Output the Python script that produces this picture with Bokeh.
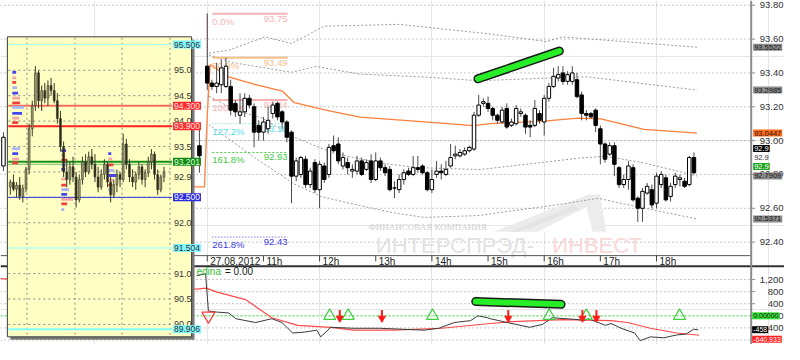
import numpy as np
from bokeh.plotting import figure
from bokeh.models import Range1d, Label, ColumnDataSource
from bokeh.core.properties import value
from bokeh.embed import file_html
from bokeh.resources import INLINE

FONT = "Liberation Sans"

# ====================== DATA ======================
hour_ticks = [10, 11, 12, 13, 14, 15, 16, 17, 18]
hour_labels = ["27.08.2012", "11h", "12h", "13h", "14h", "15h", "16h", "17h", "18h"]

# 5-minute bars from 10:00
bar_open = [93.44, 93.34, 93.32, 93.33, 93.32, 93.32, 93.22, 93.15, 93.17, 93.25,
            93.20, 93.09, 93.05, 93.07, 93.16, 93.22, 93.17, 93.11, 93.05, 92.79,
            92.80, 92.89, 92.74, 92.87, 92.71, 92.85, 92.80, 92.97, 92.98, 92.85,
            92.87, 92.82, 92.82, 92.88, 92.83, 92.88, 92.77, 92.88, 92.84, 92.83,
            92.72, 92.71, 92.77, 92.82, 92.80, 92.84, 92.85, 92.81, 92.71, 92.80,
            92.82, 92.80, 92.85, 92.91, 92.91, 92.92, 92.94, 92.95, 93.15, 93.22,
            93.22, 93.19, 93.15, 93.11, 93.19, 93.09, 93.10, 93.16, 93.15, 93.09,
            93.09, 93.16, 93.11, 93.25, 93.32, 93.37, 93.40, 93.35, 93.35, 93.36,
            93.27, 93.16, 93.16, 93.18, 93.07, 92.98, 92.92, 92.97, 92.84, 92.74,
            92.77, 92.84, 92.66, 92.60, 92.69, 92.71, 92.63, 92.74, 92.78, 92.67,
            92.74, 92.77, 92.76, 92.74, 92.90]
bar_high = [93.75, 93.36, 93.46, 93.48, 93.49, 93.36, 93.24, 93.28, 93.28, 93.27,
            93.22, 93.12, 93.14, 93.20, 93.23, 93.23, 93.18, 93.12, 93.06, 92.90,
            92.91, 92.91, 92.84, 92.89, 92.88, 92.87, 92.98, 93.03, 93.02, 92.93,
            92.90, 92.86, 92.91, 92.90, 92.89, 92.92, 92.93, 92.90, 92.86, 92.85,
            92.76, 92.80, 92.83, 92.84, 92.91, 92.91, 92.86, 92.82, 92.83, 92.88,
            92.86, 92.88, 92.98, 92.97, 92.95, 92.96, 92.97, 93.17, 93.27, 93.25,
            93.26, 93.20, 93.16, 93.20, 93.22, 93.13, 93.21, 93.19, 93.16, 93.12,
            93.24, 93.18, 93.27, 93.34, 93.43, 93.44, 93.44, 93.41, 93.44, 93.40,
            93.29, 93.18, 93.17, 93.19, 93.09, 92.99, 92.99, 92.99, 92.85, 92.80,
            92.88, 92.86, 92.67, 92.72, 92.75, 92.74, 92.81, 92.82, 92.80, 92.75,
            92.81, 92.80, 92.78, 92.91, 92.93]
bar_low = [93.30, 93.30, 93.28, 93.28, 93.31, 93.15, 93.14, 93.10, 93.14, 93.19,
           92.96, 93.00, 93.00, 93.04, 93.13, 93.12, 93.07, 92.99, 92.63, 92.76,
           92.78, 92.72, 92.72, 92.69, 92.60, 92.75, 92.78, 92.93, 92.86, 92.83,
           92.80, 92.78, 92.80, 92.79, 92.82, 92.75, 92.76, 92.82, 92.79, 92.70,
           92.66, 92.69, 92.74, 92.79, 92.79, 92.81, 92.80, 92.70, 92.69, 92.78,
           92.77, 92.79, 92.84, 92.89, 92.90, 92.91, 92.93, 92.94, 93.14, 93.20,
           93.17, 93.12, 93.10, 93.10, 93.07, 93.08, 93.09, 93.14, 93.04, 93.02,
           93.08, 93.10, 93.03, 93.23, 93.31, 93.35, 93.33, 93.33, 93.33, 93.25,
           93.12, 93.12, 93.13, 93.05, 92.86, 92.87, 92.91, 92.79, 92.72, 92.72,
           92.71, 92.64, 92.52, 92.52, 92.68, 92.60, 92.60, 92.72, 92.64, 92.64,
           92.72, 92.73, 92.72, 92.73, 92.80]
bar_close = [93.34, 93.32, 93.34, 93.43, 93.44, 93.18, 93.17, 93.17, 93.25, 93.21,
             93.05, 93.05, 93.11, 93.12, 93.21, 93.14, 93.11, 93.02, 92.79, 92.88,
             92.90, 92.74, 92.82, 92.71, 92.86, 92.77, 92.96, 92.94, 92.88, 92.90,
             92.84, 92.83, 92.88, 92.80, 92.87, 92.77, 92.88, 92.84, 92.81, 92.71,
             92.72, 92.77, 92.81, 92.80, 92.84, 92.83, 92.81, 92.71, 92.77, 92.82,
             92.81, 92.83, 92.90, 92.92, 92.93, 92.94, 92.96, 93.15, 93.21, 93.23,
             93.19, 93.15, 93.12, 93.18, 93.08, 93.11, 93.19, 93.17, 93.08, 93.08,
             93.19, 93.12, 93.25, 93.32, 93.38, 93.39, 93.35, 93.39, 93.40, 93.26,
             93.16, 93.15, 93.14, 93.09, 92.98, 92.89, 92.97, 92.86, 92.74, 92.77,
             92.85, 92.65, 92.60, 92.70, 92.73, 92.62, 92.79, 92.80, 92.65, 92.73,
             92.79, 92.78, 92.73, 92.90, 92.81]
BAR_MINUTES = 5
SESSION_START = 10.0

# earlier bars visible beside the inset
pre_time = [6.37, 9.86]
pre_open = [92.85, 92.97]
pre_high = [93.05, 93.08]
pre_low = [92.82, 92.81]
pre_close = [93.02, 92.91]

# channel bands (dotted)
band_uo_t = [10.03, 10.38, 11.03, 11.50, 12.08, 13.42, 15.04, 16.04, 16.32, 17.19, 18.72]
band_uo_v = [93.517, 93.534, 93.613, 93.574, 93.676, 93.687, 93.630, 93.585, 93.613, 93.591, 93.552]
band_ui_t = [10.03, 10.45, 11.50, 11.94, 12.72, 13.87, 14.82, 16.61, 16.79, 18.72]
band_ui_v = [93.506, 93.461, 93.404, 93.438, 93.393, 93.376, 93.354, 93.376, 93.376, 93.2985]
band_li_t = [10.03, 10.51, 10.98, 11.55, 12.25, 13.07, 13.77, 14.87, 16.61, 17.09, 17.78, 18.72]
band_li_v = [93.263, 93.179, 93.133, 93.020, 92.925, 92.868, 92.840, 92.829, 92.896, 92.908, 92.868, 92.7909]
band_lo_t = [10.03, 10.86, 11.55, 12.02, 12.60, 13.30, 13.87, 14.82, 16.32, 16.96, 17.43, 18.72]
band_lo_v = [93.094, 92.896, 92.744, 92.670, 92.625, 92.574, 92.546, 92.557, 92.625, 92.659, 92.625, 92.5371]

# average line (orange)
avg_t = [9.72, 9.95, 10.0, 10.05, 10.38, 10.86, 11.34, 11.55, 12.13, 12.72, 13.87, 14.74, 15.04, 16.04, 16.61, 17.01, 17.78, 18.72]
avg_v = [92.727, 92.727, 93.150, 93.450, 93.376, 93.331, 93.292, 93.224, 93.179, 93.139, 93.111, 93.088, 93.100, 93.117, 93.133, 93.128, 93.066, 93.0447]

# Fibonacci grid
fib_levels = [93.75, 93.49, 93.24, 93.10, 92.93, 92.43]
fib_pct = ["0.0%", "50.0%", "100.0%", "127.2%", "161.8%", "261.8%"]
fib_text = ["93.75", "93.49", "93.24", "93.10", "92.93", "92.43"]
fib_color = ["#f5b5b5", "#f7c08a", "#f5b0b0", "#55dde6", "#44c844", "#3a3ae6"]
fib_dash = ["solid", "solid", "solid", "1 2", "2 2", "1 2"]
fib_width = [2, 2, 2, 1, 1, 1]
FIB_T0, FIB_T1 = 10.09, 11.43

# hand-drawn trend strokes
trend_t = [14.82, 16.27]
trend_v = [93.365, 93.529]
ind_trend_t = [14.78, 16.30]
ind_trend_v = [474, 379]

# oscillator
osc_t = [9.81, 9.97, 10.02, 10.16, 10.38, 10.51, 10.86, 11.15, 11.33, 11.52, 11.73, 11.95, 12.02,
         12.20, 12.60, 13.07, 13.87, 14.12, 14.40, 14.69, 14.82, 14.99, 15.04, 15.34, 15.74, 15.97,
         16.14, 16.61, 16.70, 16.79, 17.09, 17.19, 17.37, 17.61, 17.71, 17.89, 18.13, 18.36, 18.53,
         18.66, 18.74]
osc_v = [1326, 1390, 158, 126, 95, -95, -221, -95, -221, -568, -537, -474, -695,
         -379, -411, -411, -474, -411, -221, -158, 0, -63, -95, -221, -379, -284,
         -63, -126, -158, -95, -316, -253, -411, -568, -821, -695, -726, -632, -600,
         -442, -458]
sig_t = [6.32, 9.81, 9.98, 10.16, 10.68, 11.15, 11.61, 12.20, 12.60, 13.30, 14.17, 15.04, 15.44,
         16.32, 17.19, 17.49, 17.89, 18.36, 18.76]
sig_v = [1232, 884, 916, 790, 537, -63, -316, -379, -474, -474, -411, -253, -189,
         -126, -158, -221, -411, -568, -641]
buy_t = [12.18, 12.51, 14.01, 16.09, 16.75, 18.41]
sell_t = [12.36, 13.11, 15.36, 16.68, 16.93]
first_sell_t = [10.02]

# right axis
price_ticks = [92.4, 92.6, 92.8, 93.0, 93.2, 93.4, 93.6, 93.8]
price_tick_labels = ["92.40", "92.60", "92.80", "93.00", "93.20", "93.40", "93.60", "93.80"]
ind_ticks = [1200, 800, 400, 0, -400]
ind_tick_labels = ["1,200", "800", "400", "0", "-400"]
ind_grid = [1200, 800, 400, -400, -800]

price_tag_values = [93.5522, 93.2985, 93.0447, 92.9, 92.9, 92.9, 92.7909, 92.5371]
price_tag_text = ["93.5522", "93.2985", "93.0447", "92.9", "92.9", "92.9", "92.7909", "92.5371"]
price_tag_bg = ["#8a8a8a", "#8a8a8a", "#ff6a1a", "#000000", None, "#1fa51f", "#8a8a8a", "#8a8a8a"]
price_tag_fg = ["#1a1a1a", "#1a1a1a", "#1a1a1a", "#ffffff", "#333333", "#ffffff", "#1a1a1a", "#1a1a1a"]
price_tag_shift = [0, 0, 0, 9, 0, -9, 0, 0]

ind_tag_values = [0.0, -458, -640.933]
ind_tag_text = ["0.00000", "-458", "-640.933"]
ind_tag_bg = ["#33dd33", "#000000", "#ff2020"]
ind_tag_fg = ["#1a1a1a", "#ffffff", "#ffffff"]
ind_tag_shift = [0, 0, -4]

# inset (older bars)
d_open = [92.70, 92.80, 92.66, 92.74, 92.52, 92.68, 93.05, 93.85, 94.30, 94.95,
          94.40, 94.60, 94.45, 94.70, 94.60, 94.40, 94.05, 93.50, 93.00, 92.85,
          93.10, 92.90, 92.45, 92.85, 93.20, 93.00, 93.30, 93.15, 92.90, 92.70,
          92.95, 93.15, 92.80, 92.55, 92.75, 92.95, 92.85, 93.55, 93.15, 92.90,
          92.80, 92.95, 93.10, 92.85, 92.98, 93.20, 93.35, 92.95, 92.65, 92.90]
d_high = [92.85, 92.95, 92.80, 92.90, 92.75, 93.10, 93.95, 94.40, 95.08, 95.00,
          94.70, 94.75, 94.80, 94.85, 94.75, 94.55, 94.20, 93.60, 93.25, 93.20,
          93.30, 93.00, 92.95, 93.30, 93.35, 93.40, 93.45, 93.35, 93.10, 93.05,
          93.25, 93.20, 92.90, 92.85, 93.05, 93.00, 93.75, 93.65, 93.25, 93.05,
          93.00, 93.20, 93.15, 93.05, 93.30, 93.45, 93.40, 93.05, 92.95, 93.10]
d_low = [92.55, 92.62, 92.50, 92.45, 92.40, 92.60, 92.95, 93.70, 94.20, 94.25,
         94.20, 94.35, 94.30, 94.50, 94.35, 93.95, 93.40, 92.90, 92.70, 92.75,
         92.80, 92.30, 92.40, 92.75, 92.90, 92.95, 93.05, 92.80, 92.60, 92.65,
         92.85, 92.70, 92.40, 92.50, 92.60, 92.70, 92.80, 93.05, 92.80, 92.70,
         92.65, 92.85, 92.75, 92.70, 92.90, 93.05, 92.85, 92.55, 92.60, 92.80]
d_close = [92.80, 92.66, 92.74, 92.52, 92.68, 93.05, 93.85, 94.30, 94.95, 94.40,
           94.60, 94.45, 94.70, 94.60, 94.40, 94.05, 93.50, 93.00, 92.85, 93.10,
           92.90, 92.45, 92.85, 93.20, 93.00, 93.30, 93.15, 92.90, 92.70, 92.95,
           93.15, 92.80, 92.55, 92.75, 92.95, 92.85, 93.55, 93.15, 92.90, 92.80,
           92.95, 93.10, 92.85, 92.98, 93.20, 93.35, 92.95, 92.65, 92.90, 93.00]

inset_grid = [90.0, 90.5, 91.0, 91.5, 92.0, 92.5, 93.0, 93.5, 94.0, 94.5, 95.0]
inset_axis_values = [95.0, 94.5, 94.0, 93.5, 92.9, 92.0, 91.0, 90.5, 90.0]
inset_axis_text = ["95.0", "94.5", "94.0", "93.5", "92.9", "92.0", "91.0", "90.5", "90.0"]
inset_level_values = [95.506, 94.300, 93.900, 93.201, 93.15, 92.500, 91.504, 89.906]
inset_level_color = ["#a8ffff", "#f07060", "#ff2020", "#189018", "#70c070", "#3434e0", "#c8ffe8", "#80ffff"]
inset_level_width = [1, 2, 2, 2, 1, 1, 2, 2]
inset_tag_values = [95.506, 94.300, 93.900, 93.201, 92.500, 91.504, 89.906]
inset_tag_text = ["95.506", "94.300", "93.900", "93.201", "92.500", "91.504", "89.906"]
inset_tag_bg = ["#7ff7ff", "#ff2a2a", "#ff2a2a", "#138a13", "#2a2ae0", "#7ff7ff", "#7ff7ff"]
inset_tag_fg = ["#333333", "#ffe0e0", "#ffe0e0", "#d8ffd8", "#ffffff", "#333333", "#333333"]

# volume-at-price profiles inside the inset
prof_a_price = [94.96, 94.85, 94.76, 94.66, 94.55, 94.45, 94.36, 94.27, 94.15, 94.06, 93.97, 93.46, 93.36, 93.25, 93.18]
prof_a_vol = [4, 4, 4, 5, 6, 8, 8, 12, 10, 7, 6, 8, 6, 7, 6]
prof_b_price = [93.42, 93.33, 93.23, 93.14, 93.05, 92.86, 92.74, 92.65, 92.56, 92.46, 92.37, 92.26]
prof_b_vol = [5, 4, 6, 5, 4, 6, 5, 8, 6, 12, 6, 3]
prof_c_price = [93.36, 93.25, 93.14, 93.03, 92.93, 92.84, 92.74, 92.65]
prof_c_vol = [3, 4, 5, 6, 8, 5, 4, 3]

# ====================== LAYOUT CALIBRATION (pixels of the 800x360 picture) ======================
CANVAS_W_PX, CANVAS_H_PX = 800, 360
AXIS_PX = 766
HOUR0_PX, PX_PER_HOUR = 211, 57.3
PRICE_TOP, PRICE_PER_PX = 93.828, 0.005647
IND_ZERO_PX, IND_PER_PX = 330, 31.58
INSET_REF_PRICE, INSET_REF_PX, INSET_PX_PER_UNIT = 95.0, 73, 53.2
INSET_BAR0_PX, INSET_BAR_STEP_PX = 10, 3.2
INSET_BOX = (7, 38, 195, 352)  # left, top, right, bottom
INSET_AXIS_PX = 173

X0 = 10 - HOUR0_PX / PX_PER_HOUR
X1 = 10 + (CANVAS_W_PX - HOUR0_PX) / PX_PER_HOUR
Y1 = PRICE_TOP
Y0 = PRICE_TOP - CANVAS_H_PX * PRICE_PER_PX
I1 = IND_ZERO_PX * IND_PER_PX
I0 = -(CANVAS_H_PX - IND_ZERO_PX) * IND_PER_PX
IY1 = INSET_REF_PRICE + INSET_REF_PX / INSET_PX_PER_UNIT
IY0 = INSET_REF_PRICE - (CANVAS_H_PX - INSET_REF_PX) / INSET_PX_PER_UNIT
IX0 = -INSET_BAR0_PX / INSET_BAR_STEP_PX
IX1 = (CANVAS_W_PX - INSET_BAR0_PX) / INSET_BAR_STEP_PX

p = figure(width=784, height=344, x_range=Range1d(X0, X1), y_range=Range1d(Y0, Y1),
           output_backend="svg", toolbar_location=None,
           x_axis_location=None, y_axis_location=None,
           min_border_left=0, min_border_top=0, min_border_bottom=0, min_border_right=0,
           outline_line_color=None, background_fill_color="white", border_fill_color="white")
p.extra_x_ranges = {"px": Range1d(0, CANVAS_W_PX), "ix": Range1d(IX0, IX1)}
p.extra_y_ranges = {"px": Range1d(CANVAS_H_PX, 0), "ind": Range1d(I0, I1), "iy": Range1d(IY0, IY1)}

# ---------- grid lines (dotted) ----------
p.segment(x0=[0] * len(price_ticks), x1=[AXIS_PX] * len(price_ticks), y0=price_ticks, y1=price_ticks,
          x_range_name="px", line_color="#8f8f8f", line_dash="1 3", line_width=1)
p.segment(x0=[0] * len(ind_grid), x1=[AXIS_PX] * len(ind_grid), y0=ind_grid, y1=ind_grid,
          x_range_name="px", y_range_name="ind", line_color="#8f8f8f", line_dash="1 3", line_width=1)
p.segment(x0=[0], y0=[0], x1=[AXIS_PX], y1=[0], x_range_name="px", y_range_name="ind",
          line_color="#33cc33", line_dash="2 2", line_width=1)

# ---------- watermark ----------
p.patch(x=[503, 600, 612, 618], y=[242, 203, 203, 242], x_range_name="px", y_range_name="px",
        fill_color="#ececec", line_color=None)
p.patch(x=[548, 598, 604], y=[242, 216, 242], x_range_name="px", y_range_name="px",
        fill_color="#ffffff", line_color=None)
p.patch(x=[520, 585, 590, 530], y=[242, 214, 218, 242], x_range_name="px", y_range_name="px",
        fill_color="#e4e4e4", line_color=None)
p.text(x=[436], y=[237], text=["ФИНАНСОВАЯ КОМПАНИЯ"], x_range_name="px", y_range_name="px",
       text_font=value("Liberation Serif"), text_font_size="9px", text_color="#cfcfcf",
       text_align="center", text_baseline="middle")
p.text(x=[383], y=[256], text=["ИНТЕРСПРЭД-"], x_range_name="px", y_range_name="px",
       text_font=value(FONT), text_font_size="22px", text_color="#e2e2e2",
       text_align="left", text_baseline="middle")
p.text(x=[563], y=[256], text=["ИНВЕСТ"], x_range_name="px", y_range_name="px",
       text_font=value(FONT), text_font_size="22px", text_color="#f8d8d8",
       text_align="left", text_baseline="middle")

# ---------- bands, average, fib ----------
for bt, bv in [(band_uo_t, band_uo_v), (band_ui_t, band_ui_v), (band_li_t, band_li_v), (band_lo_t, band_lo_v)]:
    p.line(bt, bv, line_color="#9a9a9a", line_dash="2 2", line_width=1)
p.line(avg_t, avg_v, line_color="#ff7f3a", line_width=1.3)

for lvl, pct, txt, col, dash, lw in zip(fib_levels, fib_pct, fib_text, fib_color, fib_dash, fib_width):
    p.line([FIB_T0, FIB_T1], [lvl, lvl], line_color=col, line_dash=dash, line_width=lw)
    p.text(x=[FIB_T0], y=[lvl], text=[pct], text_font=value(FONT), text_font_size="9.5px",
           text_color=col, text_align="left", text_baseline="top", y_offset=2)
    p.text(x=[FIB_T1], y=[lvl], text=[txt], text_font=value(FONT), text_font_size="9.5px",
           text_color=col, text_align="right", text_baseline="top", y_offset=2)
p.line([SESSION_START, SESSION_START], [fib_levels[0], fib_levels[1]], line_color="#ff3030",
       line_dash="1 2", line_width=1)

# ---------- candles ----------
bar_t = [SESSION_START + i * BAR_MINUTES / 60 for i in range(len(bar_open))]
all_t = pre_time + bar_t
all_o = pre_open + bar_open
all_h = pre_high + bar_high
all_l = pre_low + bar_low
all_c = pre_close + bar_close
src = ColumnDataSource(dict(
    t=all_t, h=all_h, l=all_l,
    top=[max(o, c) for o, c in zip(all_o, all_c)],
    bot=[min(o, c) for o, c in zip(all_o, all_c)],
    fill=["white" if c >= o else "black" for o, c in zip(all_o, all_c)]))
p.segment(x0="t", y0="h", x1="t", y1="l", source=src, line_color="#4a4a4a", line_width=1)
p.vbar(x="t", width=0.062, top="top", bottom="bot", fill_color="fill", line_color="black",
       line_width=1, source=src)

# trend stroke (price)
p.line(trend_t, trend_v, line_color="#1a1a1a", line_width=9, line_cap="round")
p.line(trend_t, trend_v, line_color="#27ee27", line_width=6, line_cap="round")

# ---------- separators / time axis ----------
p.segment(x0=[0, 0], y0=[267, 278], x1=[AXIS_PX, CANVAS_W_PX], y1=[267, 278],
          x_range_name="px", y_range_name="px", line_color=["#555555", "#333333"], line_width=[1, 2])
p.segment(x0=hour_ticks, x1=hour_ticks, y0=[267] * len(hour_ticks), y1=[273] * len(hour_ticks),
          y_range_name="px", line_color="#444444", line_width=1)
p.text(x=hour_ticks, y=[273] * len(hour_ticks), text=hour_labels, y_range_name="px", x_offset=3,
       text_font=value(FONT), text_font_size="10px", text_color="#1a1a1a",
       text_align="left", text_baseline="middle")

# ---------- indicator pane ----------
p.line(sig_t, sig_v, y_range_name="ind", line_color="#ff4a4a", line_width=1.2)
p.line(osc_t, osc_v, y_range_name="ind", line_color="#3a3a3a", line_width=1)
p.scatter(buy_t, [0] * len(buy_t), y_range_name="ind", marker="triangle", size=12,
          fill_color=None, line_color="#3fcf3f", line_width=1.2)
p.segment(x0=sell_t, x1=sell_t, y0=[190] * len(sell_t), y1=[-30] * len(sell_t), y_range_name="ind",
          line_color="#ff1a1a", line_width=2)
p.scatter(sell_t, [-80] * len(sell_t), y_range_name="ind", marker="inverted_triangle", size=7,
          fill_color="#ff1a1a", line_color="#ff1a1a")
p.scatter(first_sell_t, [0], y_range_name="ind", marker="inverted_triangle", size=13,
          fill_color=None, line_color="#ff3a3a", line_width=1.2)
p.line(ind_trend_t, ind_trend_v, y_range_name="ind", line_color="#1a1a1a", line_width=9, line_cap="round")
p.line(ind_trend_t, ind_trend_v, y_range_name="ind", line_color="#27ee27", line_width=6, line_cap="round")
p.text(x=[200], y=[284], text=["edina"], x_range_name="px", y_range_name="px",
       text_font=value(FONT), text_font_size="10px", text_color="#33bb33",
       text_align="left", text_baseline="middle")
p.text(x=[229], y=[284], text=["= 0.00"], x_range_name="px", y_range_name="px",
       text_font=value(FONT), text_font_size="10px", text_color="#1a1a1a",
       text_align="left", text_baseline="middle")

# ---------- inset ----------
L, T, R, B = INSET_BOX
p.quad(left=[L + 3], right=[R + 3], top=[T + 3], bottom=[B + 3], x_range_name="px", y_range_name="px",
       fill_color="#7a7a7a", line_color=None)
p.quad(left=[L], right=[R], top=[T], bottom=[B], x_range_name="px", y_range_name="px",
       fill_color="#ffffc4", line_color="#3c3c3c", line_width=1)
vgrid = [27, 76, 124, INSET_AXIS_PX]
p.segment(x0=vgrid, x1=vgrid, y0=[T + 1] * 4, y1=[B - 1] * 4, x_range_name="px", y_range_name="px",
          line_color="#8a8a8a", line_dash="2 3", line_width=1)
p.segment(x0=[L + 1] * len(inset_grid), x1=[INSET_AXIS_PX + 3] * len(inset_grid), y0=inset_grid, y1=inset_grid,
          x_range_name="px", y_range_name="iy", line_color="#8a8a8a", line_dash="2 3", line_width=1)
p.segment(x0=[L + 1] * len(inset_level_values), x1=[INSET_AXIS_PX + 2] * len(inset_level_values),
          y0=inset_level_values, y1=inset_level_values, x_range_name="px", y_range_name="iy",
          line_color=inset_level_color, line_width=inset_level_width)

prof_colors = ["#4646f0", "#f5a5a5", "#f04040", "#aab4f5"]
for x0, prices, vols in [(12, prof_a_price, prof_a_vol), (62, prof_b_price, prof_b_vol), (110, prof_c_price, prof_c_vol)]:
    p.hbar(y=prices, left=[x0] * len(prices), right=[x0 + v for v in vols], height=0.055,
           x_range_name="px", y_range_name="iy",
           fill_color=[prof_colors[i % 4] for i in range(len(prices))], line_color=None)

k = list(range(len(d_open)))
dsrc = ColumnDataSource(dict(
    k=k, h=d_high, l=d_low,
    top=[max(o, c) for o, c in zip(d_open, d_close)],
    bot=[min(o, c) for o, c in zip(d_open, d_close)],
    fill=["#9c9c72" if c >= o else "#2a2a18" for o, c in zip(d_open, d_close)]))
p.segment(x0="k", y0="h", x1="k", y1="l", source=dsrc, x_range_name="ix", y_range_name="iy",
          line_color="#3a3a28", line_width=1)
p.vbar(x="k", width=0.6, top="top", bottom="bot", fill_color="fill", line_color="#3a3a28",
       line_width=0.6, source=dsrc, x_range_name="ix", y_range_name="iy")

p.text(x=[INSET_AXIS_PX + 4] * len(inset_axis_values), y=inset_axis_values, text=inset_axis_text,
       x_range_name="px", y_range_name="iy", text_font=value(FONT), text_font_size="9px",
       text_color="#333333", text_align="left", text_baseline="middle")
for v, txt, bg, fg in zip(inset_tag_values, inset_tag_text, inset_tag_bg, inset_tag_fg):
    p.add_layout(Label(x=INSET_AXIS_PX + 3, y=v, text=txt, x_range_name="px", y_range_name="iy",
                       text_font=FONT, text_font_size="8.5px", text_color=fg,
                       text_baseline="middle", text_align="left",
                       background_fill_color=bg, padding=1))

# ---------- right price / indicator axis (drawn) ----------
p.segment(x0=[AXIS_PX], x1=[AXIS_PX], y0=[0], y1=[CANVAS_H_PX], x_range_name="px", y_range_name="px",
          line_color="#8c8c8c", line_width=2)
p.segment(x0=[AXIS_PX] * len(price_ticks), x1=[AXIS_PX + 4] * len(price_ticks), y0=price_ticks, y1=price_ticks,
          x_range_name="px", line_color="#8c8c8c", line_width=1)
p.segment(x0=[AXIS_PX] * len(ind_ticks), x1=[AXIS_PX + 4] * len(ind_ticks), y0=ind_ticks, y1=ind_ticks,
          x_range_name="px", y_range_name="ind", line_color="#8c8c8c", line_width=1)
p.text(x=[CANVAS_W_PX - 1] * len(price_ticks), y=price_ticks, text=price_tick_labels, x_range_name="px",
       text_font=value(FONT), text_font_size="9.5px", text_color="#333333",
       text_align="right", text_baseline="middle")
p.text(x=[CANVAS_W_PX - 1] * len(ind_ticks), y=ind_ticks, text=ind_tick_labels, x_range_name="px",
       y_range_name="ind", text_font=value(FONT), text_font_size="9.5px", text_color="#333333",
       text_align="right", text_baseline="middle")

for v, txt, bg, fg, sh in zip(price_tag_values, price_tag_text, price_tag_bg, price_tag_fg, price_tag_shift):
    p.add_layout(Label(x=AXIS_PX + 2, y=v, text=txt, x_range_name="px", y_offset=sh,
                       text_font=FONT, text_font_size="7.5px", text_color=fg,
                       text_baseline="middle", text_align="left",
                       background_fill_color=bg, padding=1))
for v, txt, bg, fg, sh in zip(ind_tag_values, ind_tag_text, ind_tag_bg, ind_tag_fg, ind_tag_shift):
    p.add_layout(Label(x=AXIS_PX + 1, y=v, text=txt, x_range_name="px", y_offset=sh, y_range_name="ind",
                       text_font=FONT, text_font_size="7px", text_color=fg,
                       text_baseline="middle", text_align="left",
                       background_fill_color=bg, padding=1))

open("out.html", "w").write(file_html(p, INLINE))
